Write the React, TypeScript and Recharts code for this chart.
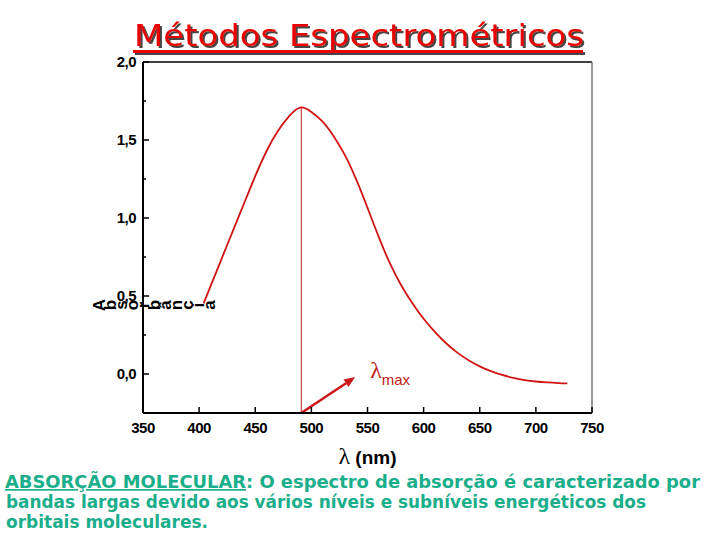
import React from 'react';
import { LineChart, Line, XAxis, YAxis, ReferenceLine } from 'recharts';

const wavelengths = [404, 410, 420, 430, 440, 450, 460, 470, 480, 490, 500, 510, 520, 530, 540, 550, 560, 570, 580, 590, 600, 610, 620, 630, 640, 650, 660, 670, 680, 690, 700, 710, 720, 728];
const absorbance = [0.453, 0.56, 0.738, 0.916, 1.093, 1.268, 1.428, 1.556, 1.651, 1.708, 1.68, 1.618, 1.523, 1.401, 1.246, 1.066, 0.879, 0.709, 0.569, 0.454, 0.354, 0.27, 0.197, 0.137, 0.088, 0.049, 0.018, -0.006, -0.025, -0.039, -0.048, -0.054, -0.058, -0.06];

const xTicks = [350, 375, 400, 425, 450, 475, 500, 525, 550, 575, 600, 625, 650, 675, 700, 725, 750];
const xLabels = [350, 400, 450, 500, 550, 600, 650, 700, 750];
const yTicks = [0, 0.25, 0.5, 0.75, 1, 1.25, 1.5, 1.75, 2];
const yLabels = [0, 0.5, 1, 1.5, 2];

const lambdaMax = 491;
const peakAbs = 1.71;
const arrowEnd = { nm: 539, abs: -0.02 };

const title = 'Métodos Espectrométricos';
const yTitle = 'Absorbância';
const noteLead = 'ABSORÇÃO MOLECULAR';
const noteLines = [
  ': O espectro de absorção é caracterizado por',
  'bandas largas devido aos vários níveis e subníveis energéticos dos',
  'orbitais moleculares.',
];

const data = wavelengths.map((nm, i) => ({ nm, abs: absorbance[i] }));

const red = '#d01414';
const green = '#1aae8a';
const axisFont = '"Liberation Sans", Arial, sans-serif';
const comicish = '"DejaVu Sans", sans-serif';

function XTick({ x, y, payload }: any) {
  const major = xLabels.includes(payload.value);
  return (
    <g>
      <line x1={x} x2={x} y1={y} y2={y - (major ? 6 : 3)} stroke="#000" strokeWidth={1.5} />
      {major && (
        <text x={x} y={y + 20} textAnchor="middle" fontFamily={axisFont} fontWeight="bold" fontSize={15} fill="#000" letterSpacing={-0.5}>
          {payload.value}
        </text>
      )}
    </g>
  );
}

function YTick({ x, y, payload }: any) {
  const major = yLabels.includes(payload.value);
  return (
    <g>
      <line x1={x} x2={x + (major ? 6 : 3)} y1={y} y2={y} stroke="#000" strokeWidth={1.5} />
      {major && (
        <text x={x - 7} y={y} dy="0.36em" textAnchor="end" fontFamily={axisFont} fontWeight="bold" fontSize={15} fill="#000" letterSpacing={-0.5}>
          {payload.value.toFixed(1).replace('.', ',')}
        </text>
      )}
    </g>
  );
}

function XLabel({ viewBox }: any) {
  const cx = viewBox.x + viewBox.width / 2;
  return (
    <text x={cx} y={viewBox.y + 51} textAnchor="middle" fill="#000">
      <tspan fontFamily='"Liberation Serif", serif' fontSize={24}>λ</tspan>
      <tspan fontFamily={axisFont} fontWeight="bold" fontSize={19}> (nm)</tspan>
    </text>
  );
}

// the slide shows every glyph turned on its own, laid side by side
function YLabel() {
  const chars = yTitle.split('');
  return (
    <g>
      {chars.map((ch, i) => {
        const cx = 99 + i * 11;
        const cy = 305;
        return (
          <text
            key={i}
            x={cx}
            y={cy}
            dy="0.35em"
            textAnchor="middle"
            transform={`rotate(-90 ${cx} ${cy})`}
            fontFamily={axisFont}
            fontWeight="bold"
            fontSize={17}
            fill="#000"
          >
            {ch}
          </text>
        );
      })}
    </g>
  );
}

function Arrow({ x1, y1, x2, y2 }: any) {
  const ang = Math.atan2(y2 - y1, x2 - x1);
  const c = Math.cos(ang);
  const s = Math.sin(ang);
  const bx = x2 - 11 * c;
  const by = y2 - 11 * s;
  const pts = `${x2},${y2} ${bx + 4.5 * s},${by - 4.5 * c} ${bx - 4.5 * s},${by + 4.5 * c}`;
  return (
    <g>
      <line x1={x1} y1={y1} x2={bx} y2={by} stroke="#c81818" strokeWidth={2.5} />
      <polygon points={pts} fill="#c81818" />
      <text x={x2 + 15} y={y2 + 1} fill="#c01818">
        <tspan fontFamily='"Liberation Serif", serif' fontSize={24}>λ</tspan>
        <tspan fontFamily={axisFont} fontSize={15} dy={7}>max</tspan>
      </text>
    </g>
  );
}

export default function App() {
  return (
    <div style={{ position: 'absolute', left: 0, top: 0, width: 720, height: 540, background: '#fff' }}>
      <LineChart width={720} height={540} data={data} margin={{ top: 62, right: 128, bottom: 72, left: 0 }}>
        <XAxis
          type="number"
          dataKey="nm"
          domain={[350, 750]}
          ticks={xTicks}
          height={55}
          tickSize={0}
          tickMargin={0}
          tickLine={false}
          tick={<XTick />}
          axisLine={{ stroke: '#000', strokeWidth: 2 }}
          label={<XLabel />}
        />
        <YAxis
          type="number"
          domain={[-0.25, 2]}
          ticks={yTicks}
          width={143}
          tickSize={0}
          tickMargin={0}
          tickLine={false}
          tick={<YTick />}
          axisLine={{ stroke: '#000', strokeWidth: 2 }}
          label={<YLabel />}
        />
        <ReferenceLine y={2} stroke="#000" strokeWidth={1.5} />
        <ReferenceLine x={750} stroke="#777" strokeWidth={1.5} />
        <ReferenceLine
          segment={[{ x: lambdaMax, y: peakAbs }, { x: lambdaMax, y: -0.25 }]}
          stroke="#c42020"
          strokeWidth={1}
        />
        <ReferenceLine
          segment={[{ x: lambdaMax, y: -0.25 }, { x: arrowEnd.nm, y: arrowEnd.abs }]}
          shape={(p: any) => <Arrow {...p} />}
        />
        <Line type="natural" dataKey="abs" stroke={red} strokeWidth={1.8} dot={false} isAnimationActive={false} />
      </LineChart>
      <svg width={720} height={540} style={{ position: 'absolute', left: 0, top: 0, pointerEvents: 'none' }}>
        <defs>
          <filter id="titleShadow" x="-5%" y="-20%" width="110%" height="150%">
            <feDropShadow dx={2} dy={2} stdDeviation={0.4} floodColor="#333" floodOpacity={0.9} />
          </filter>
        </defs>
        <g filter="url(#titleShadow)" fill="#e80000">
          <text x={359} y={46} textAnchor="middle" fontFamily={comicish} fontSize={30} textLength={450} lengthAdjust="spacingAndGlyphs">{title}</text>
          <rect x={133} y={50} width={450} height={3} />
        </g>

        <text x={5} y={488} fontFamily={comicish} fontWeight="bold" fontSize={17} fill={green} textLength={695} lengthAdjust="spacingAndGlyphs">
          <tspan style={{ textDecoration: 'underline' }}>{noteLead}</tspan>
          <tspan>{noteLines[0]}</tspan>
        </text>
        <text x={6} y={508} fontFamily={comicish} fontWeight="bold" fontSize={17} fill={green} textLength={640} lengthAdjust="spacingAndGlyphs">
          {noteLines[1]}
        </text>
        <text x={6} y={528} fontFamily={comicish} fontWeight="bold" fontSize={17} fill={green} textLength={202} lengthAdjust="spacingAndGlyphs">
          {noteLines[2]}
        </text>
      </svg>
    </div>
  );
}
